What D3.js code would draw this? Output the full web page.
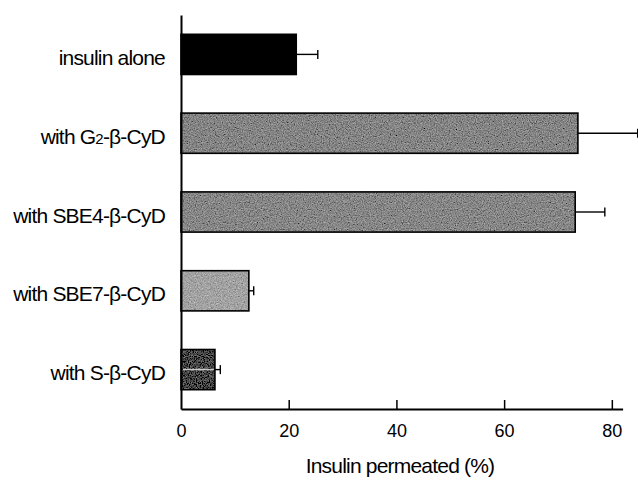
<!DOCTYPE html>
<html><head><meta charset="utf-8">
<script src="https://cdn.jsdelivr.net/npm/d3@7"></script>
<style>body{margin:0;background:#fff}svg{display:block}text{font-family:"Liberation Sans",Arial,Helvetica,sans-serif;fill:#000}</style>
</head><body>
<svg id="c" width="638" height="481"></svg>
<script>
const categories = ["insulin alone", "with G2-β-CyD", "with SBE4-β-CyD", "with SBE7-β-CyD", "with S-β-CyD"];
const values = [21.4, 73.7, 73.2, 12.6, 6.3];
const errors = [4.0, 11.1, 5.5, 0.9, 1.0];
const fills = ["#000000", "#858585", "#878787", "#a3a3a3", "#474747"];
const xTicks = [0, 20, 40, 60, 80];
const xTitle = "Insulin permeated (%)";

const svg = d3.select("#c");
const defs = svg.append("defs");
const f = defs.append("filter").attr("id", "grain").attr("x", 0).attr("y", 0).attr("width", 1).attr("height", 1);
f.append("feTurbulence").attr("type", "fractalNoise").attr("baseFrequency", 0.85).attr("numOctaves", 2).attr("seed", 4).attr("result", "n");
f.append("feColorMatrix").attr("in", "n").attr("type", "matrix")
  .attr("values", "0.33 0.33 0.33 0 0  0.33 0.33 0.33 0 0  0.33 0.33 0.33 0 0  0 0 0 0 1").attr("result", "g");
f.append("feComposite").attr("in", "SourceGraphic").attr("in2", "g").attr("operator", "arithmetic")
  .attr("k1", 0).attr("k2", 1).attr("k3", 0.9).attr("k4", -0.45).attr("result", "m");
f.append("feComposite").attr("in", "m").attr("in2", "SourceGraphic").attr("operator", "in");

const x = d3.scaleLinear().domain([0, 82]).range([181, 622.6]);
const y = d3.scaleBand().domain(categories).range([15, 409]).paddingInner(0.49).paddingOuter(0.245);

// bar fills
svg.selectAll("rect.fill").data(categories).join("rect").attr("class", "fill")
  .attr("x", x(0)).attr("y", d => y(d))
  .attr("width", (d,i) => x(values[i]) - x(0))
  .attr("height", y.bandwidth())
  .attr("fill", (d,i) => fills[i])
  .attr("filter", (d,i) => i === 0 ? null : "url(#grain)");

// light line through the S bar (error line seen through bar)
const last = categories.length - 1;
svg.append("line").attr("x1", x(0) + 2).attr("x2", x(values[last]) - 1)
  .attr("y1", y(categories[last]) + y.bandwidth()/2).attr("y2", y(categories[last]) + y.bandwidth()/2)
  .attr("stroke", "#c8c8c8").attr("stroke-width", 1.5);

// bar outlines
svg.selectAll("rect.bar").data(categories).join("rect").attr("class", "bar")
  .attr("x", x(0)).attr("y", d => y(d))
  .attr("width", (d,i) => x(values[i]) - x(0))
  .attr("height", y.bandwidth())
  .attr("fill", "none")
  .attr("stroke", "#000").attr("stroke-width", 1.6);

// error bars
const eb = svg.append("g").attr("stroke", "#000").attr("stroke-width", 1.4);
categories.forEach((d,i) => {
  const cy = y(d) + y.bandwidth()/2;
  eb.append("line").attr("x1", x(values[i])).attr("x2", x(values[i]+errors[i])).attr("y1", cy).attr("y2", cy);
  eb.append("line").attr("x1", x(values[i]+errors[i])).attr("x2", x(values[i]+errors[i])).attr("y1", cy-4.5).attr("y2", cy+4.5);
});

// x axis
const xa = svg.append("g").attr("transform", "translate(0,409)")
  .call(d3.axisBottom(x).tickValues(xTicks).tickSizeInner(-9).tickSizeOuter(0).tickPadding(15));
xa.select(".domain").attr("stroke-width", 2);
xa.selectAll(".tick line").attr("stroke-width", 1.5);
xa.selectAll(".tick text").attr("font-size", 18).attr("dy", "0.71em").attr("font-family", '"Liberation Sans",Arial,sans-serif');
xa.selectAll(".tick").filter(d => d === 0).select("line").remove();

// y axis
const ya = svg.append("g").attr("transform", "translate(181,0)")
  .call(d3.axisLeft(y).tickSize(0).tickPadding(16).tickFormat(() => ""));
ya.select(".domain").attr("stroke-width", 2);

// y labels with subscript
categories.forEach(d => {
  const t = svg.append("text").attr("x", 165).attr("y", y(d) + y.bandwidth()/2 + 10.5)
    .attr("text-anchor", "end").attr("font-size", 21).attr("letter-spacing", -0.8);
  const m = d.match(/^(.*G)2(-.*)$/);
  if (m) {
    t.append("tspan").text(m[1]);
    t.append("tspan").attr("font-size", 15).text("2");
    t.append("tspan").text(m[2]);
  } else t.text(d);
});

svg.append("text").attr("x", 400).attr("y", 473).attr("text-anchor", "middle").attr("font-size", 21)
  .attr("letter-spacing", -0.8).text(xTitle);
</script>
</body></html>
